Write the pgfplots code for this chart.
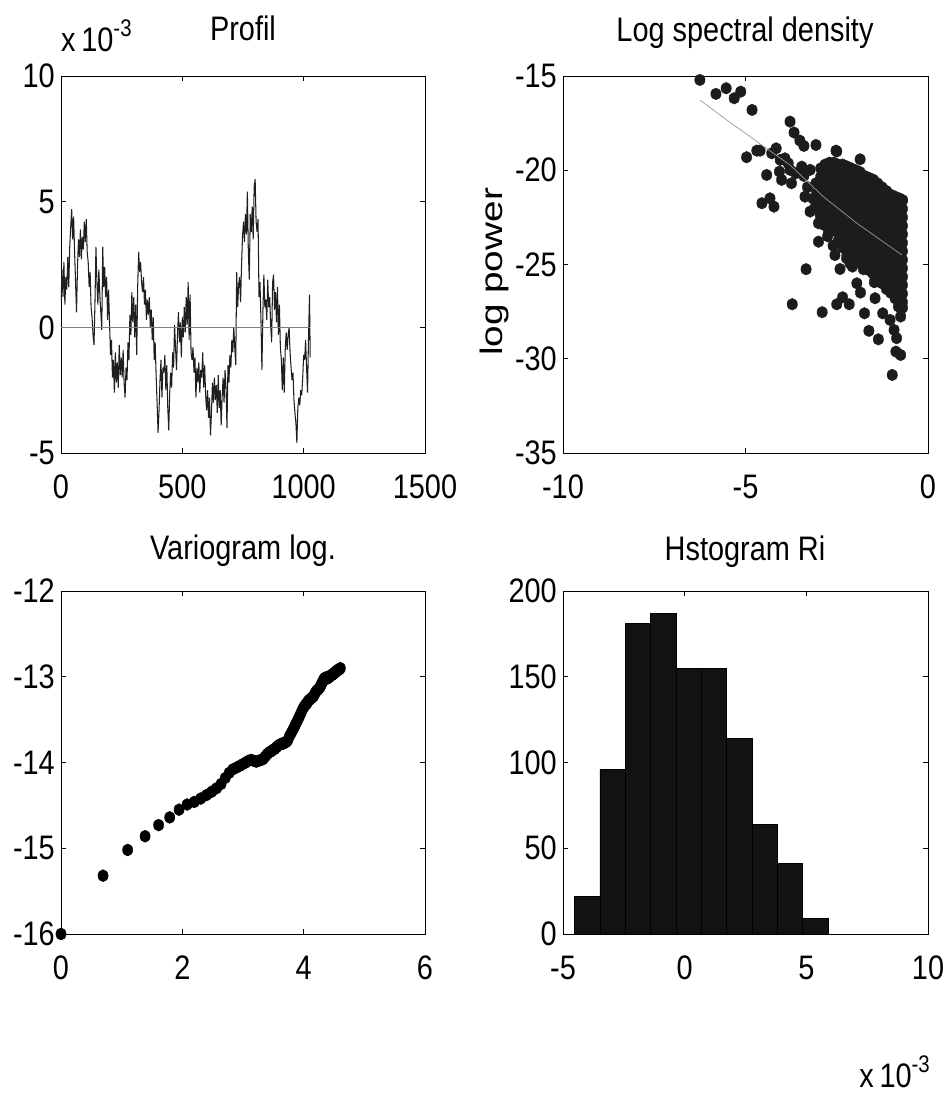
\documentclass[border=0pt]{standalone}
\usepackage{fontspec}
\setmainfont{Liberation Sans}[FakeStretch=0.85]
\newfontfamily\ylabfont{Liberation Sans}
\usepackage{graphicx}
\usepackage{pgfplots}
\pgfplotsset{compat=1.18}
\pgfplotsset{
  myax/.style={scale only axis, anchor=south west,
    axis line style={black,line width=0.8pt},
    tick style={black,line width=0.6pt}, major tick length=5pt,
    tick align=inside, xtick pos=both, ytick pos=both,
    clip marker paths=true,
    ticklabel style={font=\fontsize{34}{40}\selectfont, inner sep=0pt},
    xticklabel style={yshift=-22pt}, yticklabel style={xshift=-6pt}}
}
\definecolor{dot}{HTML}{1C1C1C}
\begin{document}
\fontsize{34}{40}\selectfont
\begin{tikzpicture}[x=1pt,y=1pt]
\path[use as bounding box] (0,0) rectangle (950,1095);

% ---------- Profil ----------
\begin{axis}[myax, at={(61pt,642pt)}, width=364pt, height=377pt,
  xmin=0, xmax=1500, ymin=-5, ymax=10,
  xtick={0,500,1000,1500}, xticklabels={0,500,1000,1500},
  ytick={-5,0,5,10}, yticklabels={-5,0,5,10}]
\addplot[black!88, line width=1.05pt, line join=bevel] coordinates {
(0,1.0)(4,2.3)(8,1.2)(12,2.6)(16,0.9)(20,2.0)(24,1.5)(28,2.8)(32,1.6)(36,3.2)(40,4.0)(44,4.7)(48,3.5)(52,4.4)(56,3.0)(60,1.8)(64,0.6)(68,2.4)(72,3.5)(76,2.8)(80,3.9)(84,2.7)(88,3.6)(92,3.1)(96,4.2)(100,3.4)
(104,4.3)(108,3.0)(112,2.6)(116,1.6)(120,2.2)(124,0.8)(128,0.4)(132,-0.3)(136,-0.7)(140,1.0)(144,3.2)(148,1.8)(152,0.9)(156,2.3)(160,1.3)(164,0.6)(168,-0.1)(172,3.2)(176,1.6)(180,2.4)(184,1.2)(188,2.0)(192,0.3)(196,1.5)(200,0.2)
(204,-1.1)(208,-0.5)(212,-2.0)(216,-1.3)(220,-2.6)(224,-1.0)(228,-2.2)(232,-1.4)(236,-2.4)(240,-0.7)(244,-1.9)(248,-1.2)(252,-2.0)(256,-0.9)(260,-2.2)(264,-2.8)(268,-1.6)(272,-2.1)(276,-0.6)(280,-1.3)(284,0.5)(288,-0.3)(292,1.4)(296,0.2)(300,1.2)(304,-0.4)(308,0.9)(312,-1.1)
(316,1.6)(320,3.0)(324,2.2)(328,2.6)(332,1.8)(336,1.4)(340,2.0)(344,0.9)(348,1.5)(352,0.3)(356,1.1)(360,0.5)(364,1.2)(368,0.0)(372,0.7)(376,-0.5)(380,0.4)(384,-1.3)(388,-0.6)(392,-1.9)
(396,-3.0)(400,-4.2)(404,-3.3)(408,-2.1)(412,-1.3)(416,-2.8)(420,-1.6)(424,-1.8)(428,-1.1)(432,-2.5)(436,-1.5)(440,-3.2)(444,-4.1)(448,-2.6)(452,-1.8)(456,-2.4)(460,-1.0)(464,-1.6)(468,0.1)(472,-0.8)(476,-1.7)(480,-0.3)(484,0.6)(488,-0.6)(492,0.2)(496,-1.2)(500,0.4)(504,-0.4)(508,0.8)
(512,-0.2)(516,1.2)(520,0.1)(524,1.8)(528,-0.5)(532,1.3)(536,-1.0)(540,-1.3)(544,-0.8)(548,-1.8)(552,-1.2)(556,-2.8)(560,-1.6)(564,-2.2)(568,-1.4)(572,-2.6)(576,-1.7)(580,-2.0)(584,-1.0)(588,-2.4)(592,-1.5)(596,-2.7)(600,-3.3)(604,-2.5)(608,-3.6)(612,-2.8)(616,-4.3)(620,-3.4)(624,-2.2)(628,-3.0)(632,-2.0)(636,-2.9)(640,-2.3)(644,-3.4)(648,-1.9)(652,-3.2)(656,-2.5)(660,-3.9)(664,-2.8)(668,-2.0)(672,-3.0)(676,-1.7)(680,-2.4)(684,-4.0)(688,-1.5)(692,-2.2)(696,-1.1)(700,-1.6)(704,-0.5)(708,-1.0)(712,0.0)(716,-0.8)(720,-1.5)
(724,2.2)(728,0.8)(732,1.7)(736,2.0)(740,1.0)(744,2.5)(748,3.6)(752,4.2)(756,3.4)(760,4.5)(764,3.7)(768,5.4)(772,3.0)(776,1.9)(780,4.5)(784,3.8)(788,4.8)(792,3.5)(796,5.6)(800,5.9)(804,4.2)(808,3.8)(812,4.3)(816,1.2)(820,1.8)(824,0.3)(828,-1.7)(832,0.6)(836,2.1)(840,0.8)(844,1.1)(848,0.3)(852,1.9)(856,0.8)(860,1.2)(864,0.1)(868,-0.6)(872,1.8)(876,2.1)(880,0.7)(884,1.4)(888,0.2)(892,1.6)(896,-0.3)(900,0.9)
(904,-0.8)(908,-1.3)(912,-2.5)(916,-1.2)(920,-2.6)(924,-0.9)(928,-0.2)(932,-0.9)(936,-0.3)(940,0.0)(944,-1.0)(948,-1.6)(952,-2.1)(956,-1.8)(960,-2.9)(964,-3.4)(968,-3.8)(972,-4.6)(976,-3.2)(980,-2.8)(984,-3.1)(988,-2.5)(992,-2.7)(996,-2.0)(1000,-1.1)(1004,-1.3)(1008,-0.5)(1012,-1.6)(1016,-2.6)(1020,-0.4)(1024,1.3)(1027,-1.2)
};
\addplot[black!50, line width=1pt] coordinates {(0,0)(1027,0)};
\end{axis}

% ---------- Log spectral density ----------
\begin{axis}[myax, at={(563pt,642pt)}, width=365pt, height=377pt,
  xmin=-10, xmax=0, ymin=-35, ymax=-15, clip=false,
  xtick={-10,-5,0}, xticklabels={-10,-5,0},
  ytick={-35,-30,-25,-20,-15}, yticklabels={-35,-30,-25,-20,-15}]
\addplot[only marks, mark=*, mark size=5.2pt, mark options={fill=dot, draw=dot, yscale=1.12}] coordinates {
(-6.25,-15.21)(-5.81,-15.95)(-5.53,-15.65)(-5.31,-16.18)(-5.13,-15.83)(-4.82,-16.80)(-4.97,-19.31)
(-4.69,-18.96)(-4.60,-18.96)(-4.42,-20.25)(-4.55,-21.75)(-4.33,-21.49)(-4.22,-21.93)(-4.28,-19.1)(-4.16,-18.84)
(-4.05,-19.45)(-3.92,-19.37)(-3.83,-19.63)(-4.07,-20.07)(-4.01,-20.51)(-3.78,-19.98)(-3.78,-17.42)(-3.67,-18.0)
(-3.51,-18.43)(-3.40,-18.71)(-3.07,-18.66)(-2.52,-18.96)(-1.86,-19.42)(-3.74,-20.69)(-3.62,-20.16)(-3.46,-19.81)
(-3.37,-21.40)(-3.23,-22.19)(-3.00,-22.81)(-3.00,-23.79)(-2.73,-23.17)(-3.34,-25.25)(-3.72,-27.11)(-2.90,-27.53)
(-2.41,-25.24)(-2.07,-25.11)(-1.77,-25.25)(-2.50,-27.11)(-2.34,-26.74)(-2.16,-27.11)(-1.95,-26.0)(-1.85,-26.49)
(-1.74,-27.59)(-1.62,-28.52)(-1.47,-25.94)(-1.45,-26.79)(-1.36,-28.97)(-1.24,-27.59)(-1.04,-27.94)(-0.93,-28.47)
(-0.86,-28.91)(-0.88,-29.62)(-0.75,-29.80)(-0.98,-30.86)(-0.81,-27.23)(-0.75,-27.76)(-2.23,-24.67)(-2.14,-24.93)
(-3.07,-20.69)(-3.23,-19.98)(-2.50,-19.0)(-1.45,-20.69)(-0.70,-21.58)
(-3.40,-20.3)(-3.30,-20.9)(-3.15,-21.5)(-3.10,-22.0)(-3.05,-21.2)(-2.95,-22.4)(-2.85,-22.9)(-2.75,-23.5)(-2.60,-24.0)(-2.55,-24.5)
(-2.94,-19.9)(-2.94,-20.35)(-2.94,-20.8)(-2.94,-21.25)(-2.94,-21.7)
(-2.82,-19.7)(-2.82,-20.15)(-2.82,-20.6)(-2.82,-21.05)(-2.82,-21.5)(-2.82,-21.95)(-2.82,-22.4)
(-2.70,-19.6)(-2.70,-20.05)(-2.70,-20.5)(-2.70,-20.95)(-2.70,-21.4)(-2.70,-21.85)(-2.70,-22.3)(-2.70,-22.75)
(-2.58,-19.6)(-2.58,-20.05)(-2.58,-20.5)(-2.58,-20.95)(-2.58,-21.4)(-2.58,-21.85)(-2.58,-22.3)(-2.58,-22.75)(-2.58,-23.2)
(-2.46,-19.7)(-2.46,-20.15)(-2.46,-20.6)(-2.46,-21.05)(-2.46,-21.5)(-2.46,-21.95)(-2.46,-22.4)(-2.46,-22.85)(-2.46,-23.3)(-2.46,-23.75)
(-2.34,-19.7)(-2.34,-20.15)(-2.34,-20.6)(-2.34,-21.05)(-2.34,-21.5)(-2.34,-21.95)(-2.34,-22.4)(-2.34,-22.85)(-2.34,-23.3)(-2.34,-23.75)(-2.34,-24.1)
(-2.22,-19.8)(-2.22,-20.25)(-2.22,-20.7)(-2.22,-21.15)(-2.22,-21.6)(-2.22,-22.05)(-2.22,-22.5)(-2.22,-22.95)(-2.22,-23.4)(-2.22,-23.85)(-2.22,-24.3)(-2.22,-24.5)
(-2.10,-19.9)(-2.10,-20.35)(-2.10,-20.8)(-2.10,-21.25)(-2.10,-21.7)(-2.10,-22.15)(-2.10,-22.6)(-2.10,-23.05)(-2.10,-23.5)(-2.10,-23.95)(-2.10,-24.4)(-2.10,-24.6)
(-1.98,-20.0)(-1.98,-20.45)(-1.98,-20.9)(-1.98,-21.35)(-1.98,-21.8)(-1.98,-22.25)(-1.98,-22.7)(-1.98,-23.15)(-1.98,-23.6)(-1.98,-24.05)(-1.98,-24.5)(-1.98,-24.7)
(-1.86,-20.1)(-1.86,-20.55)(-1.86,-21.0)(-1.86,-21.45)(-1.86,-21.9)(-1.86,-22.35)(-1.86,-22.8)(-1.86,-23.25)(-1.86,-23.7)(-1.86,-24.15)(-1.86,-24.6)(-1.86,-24.9)
(-1.74,-20.3)(-1.74,-20.75)(-1.74,-21.2)(-1.74,-21.65)(-1.74,-22.1)(-1.74,-22.55)(-1.74,-23.0)(-1.74,-23.45)(-1.74,-23.9)(-1.74,-24.35)(-1.74,-24.8)(-1.74,-25.1)
(-1.62,-20.4)(-1.62,-20.85)(-1.62,-21.3)(-1.62,-21.75)(-1.62,-22.2)(-1.62,-22.65)(-1.62,-23.1)(-1.62,-23.55)(-1.62,-24.0)(-1.62,-24.45)(-1.62,-24.9)(-1.62,-25.3)
(-1.50,-20.5)(-1.50,-20.95)(-1.50,-21.4)(-1.50,-21.85)(-1.50,-22.3)(-1.50,-22.75)(-1.50,-23.2)(-1.50,-23.65)(-1.50,-24.1)(-1.50,-24.55)(-1.50,-25.0)(-1.50,-25.5)
(-1.38,-20.7)(-1.38,-21.15)(-1.38,-21.6)(-1.38,-22.05)(-1.38,-22.5)(-1.38,-22.95)(-1.38,-23.4)(-1.38,-23.85)(-1.38,-24.3)(-1.38,-24.75)(-1.38,-25.2)(-1.38,-25.7)
(-1.26,-20.9)(-1.26,-21.35)(-1.26,-21.8)(-1.26,-22.25)(-1.26,-22.7)(-1.26,-23.15)(-1.26,-23.6)(-1.26,-24.05)(-1.26,-24.5)(-1.26,-24.95)(-1.26,-25.4)(-1.26,-25.85)(-1.26,-26.0)
(-1.14,-21.1)(-1.14,-21.55)(-1.14,-22.0)(-1.14,-22.45)(-1.14,-22.9)(-1.14,-23.35)(-1.14,-23.8)(-1.14,-24.25)(-1.14,-24.7)(-1.14,-25.15)(-1.14,-25.6)(-1.14,-26.05)(-1.14,-26.3)
(-1.02,-21.3)(-1.02,-21.75)(-1.02,-22.2)(-1.02,-22.65)(-1.02,-23.1)(-1.02,-23.55)(-1.02,-24.0)(-1.02,-24.45)(-1.02,-24.9)(-1.02,-25.35)(-1.02,-25.8)(-1.02,-26.25)(-1.02,-26.5)
(-0.90,-21.4)(-0.90,-21.85)(-0.90,-22.3)(-0.90,-22.75)(-0.90,-23.2)(-0.90,-23.65)(-0.90,-24.1)(-0.90,-24.55)(-0.90,-25.0)(-0.90,-25.45)(-0.90,-25.9)(-0.90,-26.35)(-0.90,-26.8)
(-0.78,-21.5)(-0.78,-21.95)(-0.78,-22.4)(-0.78,-22.85)(-0.78,-23.3)(-0.78,-23.75)(-0.78,-24.2)(-0.78,-24.65)(-0.78,-25.1)(-0.78,-25.55)(-0.78,-26.0)(-0.78,-26.45)(-0.78,-27.0)
(-0.70,-21.6)(-0.70,-22.05)(-0.70,-22.5)(-0.70,-22.95)(-0.70,-23.4)(-0.70,-23.85)(-0.70,-24.3)(-0.70,-24.75)(-0.70,-25.2)(-0.70,-25.65)(-0.70,-26.1)(-0.70,-26.55)(-0.70,-27.0)(-0.70,-27.3)
};
\addplot[black!40, line width=0.7pt] coordinates {
(-6.25,-16.27)(-5.33,-17.6)(-5.15,-17.83)(-4.56,-18.66)(-3.78,-19.72)(-2.87,-21.4)(-1.95,-22.81)(-0.72,-24.49)};
\end{axis}

% ---------- Variogram log. ----------
\begin{axis}[myax, at={(61pt,161pt)}, width=364pt, height=343pt,
  xmin=0, xmax=6, ymin=-16, ymax=-12, clip=false,
  xtick={0,2,4,6}, xticklabels={0,2,4,6},
  ytick={-16,-15,-14,-13,-12}, yticklabels={-16,-15,-14,-13,-12}]
\addplot[only marks, mark=*, mark size=5.1pt, mark options={fill=black, draw=black, yscale=1.18}] coordinates {
(0,-16.00)(0.693,-15.32)(1.099,-15.02)(1.386,-14.86)(1.609,-14.73)(1.792,-14.64)(1.946,-14.55)(2.079,-14.49)(2.197,-14.46)(2.303,-14.42)
(2.398,-14.38)(2.485,-14.34)(2.565,-14.30)(2.639,-14.25)(2.708,-14.18)(2.773,-14.12)(2.833,-14.08)(2.890,-14.06)(2.944,-14.04)(2.996,-14.02)
(3.045,-14.00)(3.091,-13.98)(3.135,-13.97)(3.178,-13.98)(3.219,-13.99)(3.258,-13.98)(3.296,-13.97)(3.332,-13.96)(3.367,-13.93)(3.401,-13.90)
(3.434,-13.88)(3.466,-13.87)(3.497,-13.85)(3.526,-13.84)(3.555,-13.82)(3.584,-13.80)(3.611,-13.79)(3.638,-13.78)(3.664,-13.78)(3.689,-13.77)
(3.714,-13.76)(3.738,-13.74)(3.761,-13.70)(3.784,-13.67)(3.807,-13.64)(3.829,-13.61)(3.850,-13.58)(3.871,-13.55)(3.892,-13.52)(3.912,-13.49)
(3.932,-13.46)(3.951,-13.43)(3.970,-13.40)(3.989,-13.37)(4.007,-13.35)(4.025,-13.33)(4.043,-13.32)(4.060,-13.30)(4.078,-13.28)(4.094,-13.27)
(4.111,-13.26)(4.127,-13.25)(4.143,-13.24)(4.159,-13.23)(4.174,-13.21)(4.190,-13.19)(4.205,-13.17)(4.220,-13.16)(4.234,-13.15)(4.248,-13.14)
(4.263,-13.13)(4.277,-13.11)(4.290,-13.09)(4.304,-13.07)(4.317,-13.05)(4.331,-13.03)(4.344,-13.02)(4.357,-13.01)(4.369,-13.01)(4.382,-13.02)
(4.394,-13.02)(4.407,-13.01)(4.419,-13.00)(4.431,-13.00)(4.443,-12.99)(4.454,-12.98)(4.466,-12.98)(4.477,-12.97)(4.489,-12.97)(4.500,-12.96)
(4.511,-12.95)(4.522,-12.95)(4.533,-12.94)(4.543,-12.93)(4.554,-12.93)(4.564,-12.92)(4.575,-12.92)(4.585,-12.91)(4.595,-12.91)(4.605,-12.90)
};
\end{axis}

% ---------- Histogram ----------
\begin{axis}[myax, at={(563pt,161pt)}, width=365pt, height=343pt,
  xmin=-5, xmax=10, ymin=0, ymax=200,
  xtick={-5,0,5,10}, xticklabels={-5,0,5,10},
  ytick={0,50,100,150,200}, yticklabels={0,50,100,150,200}]
\addplot[ybar interval, fill=black!93, draw=black, line width=0.5pt] coordinates {
(-4.52,22)(-3.48,96)(-2.44,181)(-1.40,187)(-0.36,155)(0.68,155)(1.72,114)(2.76,64)(3.80,41)(4.84,9)(5.88,0)};
\end{axis}

% ---------- texts ----------
\node[anchor=base] at (243,1054) {Profil};
\node[anchor=base] at (745,1053) {Log spectral density};
\node[anchor=base] at (243,535) {Variogram log.};
\node[anchor=base] at (745,534) {Hstogram Ri};
\node[anchor=base west, inner sep=0pt] at (61,1043) {x\,10{\fontsize{24}{24}\selectfont\raisebox{15pt}{-3}}};
\node[anchor=base east, inner sep=0pt] at (930,7) {x\,10{\fontsize{24}{24}\selectfont\raisebox{15pt}{-3}}};
\node[anchor=base, rotate=90, inner sep=0pt] at (502,272) {};
\node[anchor=base, rotate=90, inner sep=0pt] at (502,823) {\scalebox{1.25}[1]{\ylabfont\fontsize{31}{31}\selectfont log power}};
\end{tikzpicture}
\end{document}
